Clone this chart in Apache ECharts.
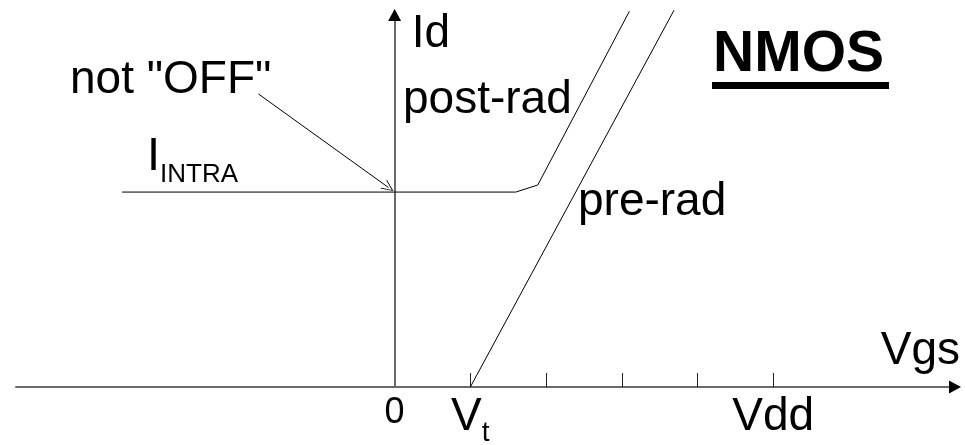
<!DOCTYPE html>
<html>
<head>
<meta charset="utf-8">
<script src="https://cdn.jsdelivr.net/npm/echarts@6/dist/echarts.min.js"></script>
<style>
  html, body { margin: 0; padding: 0; background: #fff; }
  #chart { width: 965px; height: 445px; }
</style>
</head>
<body>
<div id="chart"></div>
<script>
// Vgs (in tick units, Vt = 1, Vdd = 5) and Id (arbitrary units)
var vgsMin = -5;
var vgsMax = 7.4;
var idMax = 10;
var postRadVgs = [-3.6, 1.6, 1.89, 3.1];
var postRadId = [5.24, 5.24, 5.43, 10.1];
var preRadVgs = [1, 3.69];
var preRadId = [0, 10.13];
// pointer from the "not OFF" note to the leakage level
var noteArrowVgs = [-1.8, -0.08];
var noteArrowId = [7.88, 5.36];
var tickValues = [1, 2, 3, 4, 5];
var tickLabelValues = [0, 1, 5];
var tickLabelTexts = ['{z|0}', '{v|V}{s|t}', '{v|Vdd}'];

function pairs(xs, ys) {
    return xs.map(function (x, i) { return [x, ys[i]]; });
}

var font = '"Liberation Sans", Arial, sans-serif';
var openHead = 'path://M0,0 L6,12 L5,12 L0,2 L-5,12 L-6,12 Z';
var axisColor = '#6a6a6a';

var myChart = echarts.init(document.getElementById('chart'));
option = {
    animation: false,
    grid: {
        left: 16,
        right: 10,
        top: 15,
        bottom: 58,
        outerBoundsMode: 'none'
    },
    xAxis: {
        type: 'value',
        min: vgsMin,
        max: vgsMax,
        name: 'Vgs',
        nameLocation: 'end',
        nameGap: 5,
        nameTextStyle: {
            fontFamily: font,
            fontSize: 46,
            lineHeight: 46,
            color: '#000',
            align: 'right',
            verticalAlign: 'bottom',
            padding: [0, 0, 13, 0]
        },
        splitLine: { show: false },
        axisLine: {
            show: true,
            onZero: true,
            lineStyle: { color: axisColor, width: 2 }
        },
        axisTick: {
            show: true,
            inside: true,
            length: 14,
            customValues: tickValues,
            lineStyle: { color: '#222', width: 1 }
        },
        axisLabel: {
            show: true,
            margin: 7,
            customValues: tickLabelValues,
            formatter: function (v) {
                return tickLabelTexts[tickLabelValues.indexOf(v)];
            },
            rich: {
                z: { fontFamily: font, fontSize: 36, lineHeight: 38, color: '#000' },
                v: { fontFamily: font, fontSize: 46, lineHeight: 46, color: '#000', verticalAlign: 'top' },
                s: { fontFamily: font, fontSize: 28, lineHeight: 53, color: '#000', verticalAlign: 'bottom' }
            }
        }
    },
    yAxis: {
        type: 'value',
        min: 0,
        max: idMax,
        name: 'Id',
        nameLocation: 'end',
        nameGap: -19,
        nameTextStyle: {
            fontFamily: font,
            fontSize: 46,
            lineHeight: 46,
            color: '#000',
            align: 'left',
            verticalAlign: 'middle',
            padding: [0, 0, 0, 17]
        },
        splitLine: { show: false },
        axisTick: { show: false },
        axisLabel: { show: false },
        axisLine: {
            show: true,
            onZero: true,
            lineStyle: { color: axisColor, width: 2 }
        }
    },
    series: [{
            name: 'post-rad',
            type: 'line',
            data: pairs(postRadVgs, postRadId),
            showSymbol: false,
            clip: false,
            silent: true,
            lineStyle: { color: '#000', width: 1 },
            markLine: {
                silent: true,
                symbol: ['none', openHead],
                symbolSize: [11, 12],
                label: { show: false },
                lineStyle: { color: '#000', width: 1, type: 'solid' },
                data: [[
                    { coord: [noteArrowVgs[0], noteArrowId[0]] },
                    { coord: [noteArrowVgs[1], noteArrowId[1]] }
                ]]
            }
        },
        {
            name: 'pre-rad',
            type: 'line',
            data: pairs(preRadVgs, preRadId),
            showSymbol: false,
            clip: false,
            silent: true,
            lineStyle: { color: '#000', width: 1 }
        },
        {
            // arrow heads at the ends of both axes
            name: 'axis arrows',
            type: 'scatter',
            clip: false,
            silent: true,
            symbol: 'triangle',
            itemStyle: { color: '#000', opacity: 1 },
            z: 10,
            data: [
                { value: [0, idMax], symbolSize: [13, 12], symbolRotate: 0 },
                { value: [vgsMax, 0], symbolSize: [13, 12], symbolRotate: -90 }
            ]
        }
    ],
    graphic: [
        { type: 'text', style: { text: 'not "OFF"', x: 70, y: 80, font: '46px ' + font, fill: '#000', textAlign: 'left', textVerticalAlign: 'middle' } },
        { type: 'text', style: { text: 'I', x: 147, y: 157, font: '47px ' + font, fill: '#000', textAlign: 'left', textVerticalAlign: 'middle' } },
        { type: 'text', style: { text: 'INTRA', x: 160, y: 175, font: '26px ' + font, fill: '#000', textAlign: 'left', textVerticalAlign: 'middle' } },
        { type: 'text', style: { text: 'post-rad', x: 403, y: 100, font: '46px ' + font, fill: '#000', textAlign: 'left', textVerticalAlign: 'middle' } },
        { type: 'text', style: { text: 'pre-rad', x: 578, y: 202, font: '46px ' + font, fill: '#000', textAlign: 'left', textVerticalAlign: 'middle' } },
        { type: 'text', style: { text: 'NMOS', x: 713, y: 55, font: 'bold 57px ' + font, fill: '#000', textAlign: 'left', textVerticalAlign: 'middle' } },
        { type: 'rect', shape: { x: 712, y: 82, width: 177, height: 7 }, style: { fill: '#000' } }
    ]
};
myChart.setOption(option);
</script>
</body>
</html>
